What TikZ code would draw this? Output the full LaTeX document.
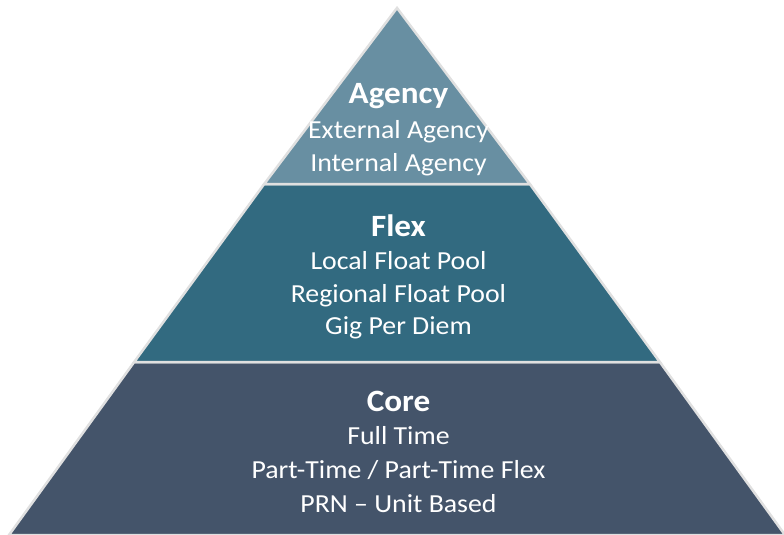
\documentclass[tikz,border=0pt]{standalone}
\usepackage{fontspec}
\setmainfont{Carlito}[FakeStretch=1.07]

\definecolor{agencyblue}{RGB}{104,143,162}
\definecolor{flexblue}{RGB}{50,106,128}
\definecolor{coreblue}{RGB}{68,84,106}
\definecolor{edgegray}{RGB}{224,224,224}

\begin{document}
\begin{tikzpicture}
  [x=1pt, y=-1pt]
  \tikzstyle{tier}       = [draw=edgegray, line width=2.5pt, line join=miter];
  \tikzstyle{tier_line}  = [anchor=base, text=white, font=\fontsize{26}{30}\selectfont];
  \tikzstyle{tier_title} = [tier_line, font=\fontsize{31}{36}\selectfont\bfseries];

  \useasboundingbox (0, 0) rectangle (784, 535);

  % three layers of the pyramid
  \filldraw[tier, fill=coreblue]   (9, 535) -- (785, 535) -- (659.8, 362) -- (134.2, 362) -- cycle;
  \filldraw[tier, fill=flexblue]   (134.2, 362) -- (659.8, 362) -- (529.8, 184) -- (264.2, 184) -- cycle;
  \filldraw[tier, fill=agencyblue] (264.2, 184) -- (529.8, 184) -- (397, 8) -- cycle;

  \node[tier_title] (agency)   at (398.5, 103) {Agency};
  \node[tier_line]  (agency_1) at (398.5, 138) {External Agency};
  \node[tier_line]  (agency_2) at (398.5, 171) {Internal Agency};

  \node[tier_title] (flex)   at (398.5, 236) {Flex};
  \node[tier_line]  (flex_1) at (398.5, 269) {Local Float Pool};
  \node[tier_line]  (flex_2) at (398.5, 302) {Regional Float Pool};
  \node[tier_line]  (flex_3) at (398.5, 334) {Gig Per Diem};

  \node[tier_title] (core)   at (398.5, 411) {Core};
  \node[tier_line]  (core_1) at (398.5, 444) {Full Time};
  \node[tier_line]  (core_2) at (398.5, 478) {Part-Time / Part-Time Flex};
  \node[tier_line]  (core_3) at (398.5, 512) {PRN – Unit Based};

\end{tikzpicture}
\end{document}
